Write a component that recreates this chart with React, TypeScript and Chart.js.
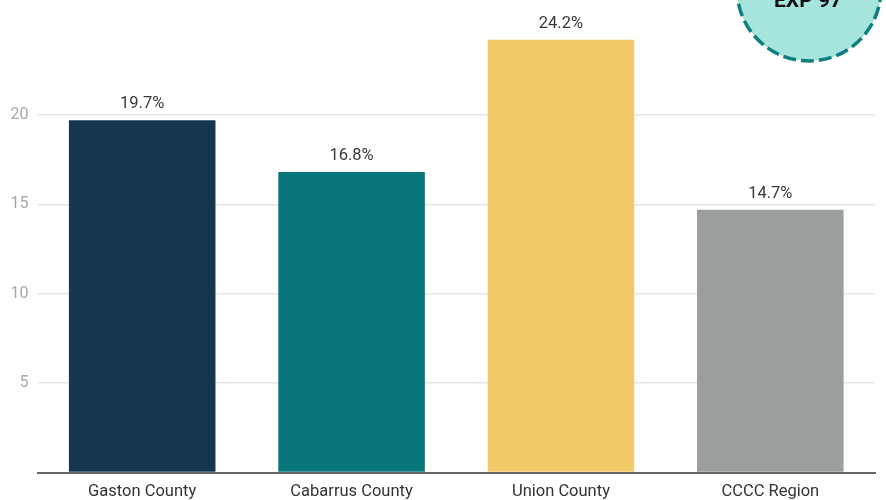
import React, { useEffect, useRef } from "react";
import { Chart, registerables } from "chart.js";

Chart.register(...registerables);

const categories = ["Gaston County", "Cabarrus County", "Union County", "CCCC Region"];
const values = [19.7, 16.8, 24.2, 14.7];
const barColors = ["#15364f", "#08767a", "#f2cb69", "#9a9e9e"];
const yTicks = [5, 10, 15, 20];
const badgeText = "EXP 97";

const labelPlugin = {
  id: "barLabels",
  afterDatasetsDraw(chart: any) {
    const ctx = chart.ctx;
    const meta = chart.getDatasetMeta(0);
    ctx.save();
    ctx.font = "16.5px Roboto";
    ctx.fillStyle = "#3a3a3a";
    ctx.textAlign = "center";
    ctx.textBaseline = "alphabetic";
    meta.data.forEach((bar: any, i: number) => {
      ctx.fillText(values[i].toFixed(1) + "%", bar.x, bar.y - 12);
    });
    ctx.restore();
  },
};

const badgePlugin = {
  id: "badge",
  afterDraw(chart: any) {
    const ctx = chart.ctx;
    ctx.save();
    ctx.beginPath();
    ctx.arc(809, -11, 72, 0, Math.PI * 2);
    ctx.fillStyle = "#a6e5dc";
    ctx.fill();
    ctx.setLineDash([13, 5]);
    ctx.lineWidth = 3.5;
    ctx.strokeStyle = "#0e7f80";
    ctx.stroke();
    ctx.setLineDash([]);
    ctx.font = "bold 21px Roboto";
    ctx.fillStyle = "#111";
    ctx.textAlign = "center";
    ctx.textBaseline = "alphabetic";
    ctx.fillText(badgeText, 808, 7);
    ctx.restore();
  },
};

export default function App() {
  const ref = useRef<HTMLCanvasElement>(null);
  useEffect(() => {
    if (!ref.current) return;
    const chart = new Chart(ref.current, {
      type: "bar",
      data: {
        labels: categories,
        datasets: [
          {
            data: values,
            backgroundColor: barColors,
            barPercentage: 0.7,
            categoryPercentage: 1,
          },
        ],
      },
      options: {
        animation: false,
        responsive: false,
        maintainAspectRatio: false,
        layout: { padding: { top: 25.5, right: 11, left: 0, bottom: 0 } },
        plugins: { legend: { display: false }, tooltip: { enabled: false } },
        scales: {
          x: {
            grid: { display: false, drawTicks: false },
            border: { display: true, color: "#666", width: 2 },
            ticks: {
              font: { family: "Roboto", size: 16.5 },
              color: "#333",
              padding: 9,
            },
            afterFit: (s: any) => {
              s.height = 27.5;
            },
          },
          y: {
            min: 0,
            max: 25,
            afterBuildTicks: (s: any) => {
              s.ticks = [0, ...yTicks, 25].map((v) => ({ value: v }));
            },
            grid: {
              drawTicks: false,
              color: (c: any) =>
                c.tick && (c.tick.value === 0 || c.tick.value === 25) ? "rgba(0,0,0,0)" : "#e6e6e6",
              lineWidth: 1.5,
            },
            border: { display: false },
            ticks: {
              font: { family: "Roboto", size: 16 },
              color: "#a8a8a8",
              padding: 9,
              callback: (v: any) => (yTicks.includes(Number(v)) ? String(v) : ""),
            },
            afterFit: (s: any) => {
              s.width = 37.5;
            },
          },
        },
      },
      plugins: [labelPlugin, badgePlugin],
    });
    return () => chart.destroy();
  }, []);
  return (
    <div style={{ position: "fixed", left: 0, top: 0, width: 886, height: 500, background: "#fff" }}>
      <canvas ref={ref} width={886} height={500} style={{ width: 886, height: 500 }} />
    </div>
  );
}
